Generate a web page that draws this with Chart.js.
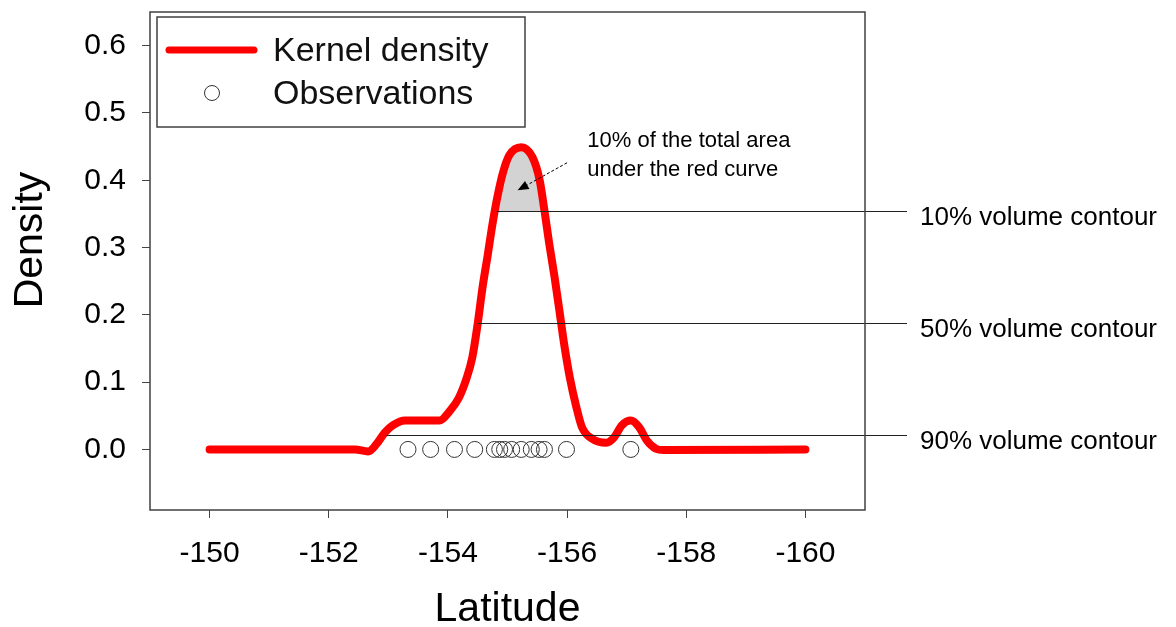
<!DOCTYPE html>
<html>
<head>
<meta charset="utf-8">
<script src="https://cdn.jsdelivr.net/npm/chart.js@4.4.0/dist/chart.umd.min.js"></script>
<style>
html,body{margin:0;padding:0;background:#fff;}
canvas{display:block;}
</style>
</head>
<body>
<canvas id="c" width="1176" height="627"></canvas>
<script>
// ---- data ----
const xTicks = [-150, -152, -154, -156, -158, -160];
const yTicks = [0.0, 0.1, 0.2, 0.3, 0.4, 0.5, 0.6];
const curveLon = [-150, -152.44, -152.66, -152.81, -152.94, -153.08, -153.28, -153.86, -154.03, -154.18, -154.31, -154.41, -154.50, -154.58, -154.67, -154.75, -154.83, -154.92, -155.03, -155.23, -155.42, -155.54, -155.62, -155.70, -155.79, -155.87, -155.95, -156.05, -156.15, -156.25, -156.42, -156.66, -156.79, -156.92, -157.07, -157.21, -157.34, -157.49, -157.62, -160];
const curveDen = [0, 0, -0.003, 0.009, 0.025, 0.036, 0.043, 0.043, 0.057, 0.076, 0.105, 0.137, 0.187, 0.24, 0.29, 0.336, 0.375, 0.41, 0.437, 0.449, 0.434, 0.40, 0.355, 0.306, 0.256, 0.207, 0.157, 0.105, 0.065, 0.033, 0.016, 0.010, 0.018, 0.036, 0.043, 0.033, 0.013, 0.001, -0.001, 0];
const obsLon = [-153.33, -153.71, -154.11, -154.45, -154.78, -154.87, -154.95, -155.07, -155.23, -155.40, -155.53, -155.62, -155.99, -157.07];
const obsDen = obsLon.map(() => 0);
const contourLevels = [0.354, 0.188, 0.021];
const contourStartLon = [-154.82, -154.50, -152.97];
const contourLabels = ['10% volume contour', '50% volume contour', '90% volume contour'];
const annoLines = ['10% of the total area', 'under the red curve'];
const annoLon = -156.34;
const annoDen = [0.459, 0.415];
const arrowFrom = [-156.0, 0.426];
const arrowTo = [-155.17, 0.385];
const seriesLabels = ['Kernel density', 'Observations'];

const FONT = "'Liberation Sans', Arial, sans-serif";

const shade = {
  id: 'shade',
  beforeDatasetsDraw(chart) {
    const ctx = chart.ctx, ys = chart.scales.y, ca = chart.chartArea;
    const meta = chart.getDatasetMeta(0);
    const yLv = ys.getPixelForValue(contourLevels[0]);
    ctx.save();
    ctx.beginPath();
    ctx.rect(ca.left, ca.top, ca.right - ca.left, yLv - ca.top);
    ctx.clip();
    ctx.beginPath();
    meta.dataset.path(ctx);
    ctx.closePath();
    ctx.fillStyle = '#d3d3d3';
    ctx.fill();
    ctx.restore();
  }
};

const overlay = {
  id: 'overlay',
  afterDatasetsDraw(chart) {
    const ctx = chart.ctx, xs = chart.scales.x, ys = chart.scales.y, ca = chart.chartArea;
    ctx.save();
    // contour lines + labels
    ctx.strokeStyle = '#222';
    ctx.lineWidth = 1;
    ctx.fillStyle = '#000';
    ctx.font = '26px ' + FONT;
    ctx.textAlign = 'left';
    ctx.textBaseline = 'middle';
    contourLevels.forEach((lv, i) => {
      const y = Math.round(ys.getPixelForValue(lv)) + 0.5;
      ctx.beginPath();
      ctx.moveTo(xs.getPixelForValue(contourStartLon[i]), y);
      ctx.lineTo(ca.right + 42, y);
      ctx.stroke();
      ctx.fillText(contourLabels[i], ca.right + 55, y + 6);
    });
    // annotation text
    ctx.font = '22px ' + FONT;
    annoLines.forEach((t, i) => {
      ctx.fillText(t, xs.getPixelForValue(annoLon), ys.getPixelForValue(annoDen[i]));
    });
    // arrow
    const x1 = xs.getPixelForValue(arrowFrom[0]), y1 = ys.getPixelForValue(arrowFrom[1]);
    const x2 = xs.getPixelForValue(arrowTo[0]), y2 = ys.getPixelForValue(arrowTo[1]);
    const ang = Math.atan2(y2 - y1, x2 - x1);
    const hl = 11, hw = 4.5;
    const bx = x2 - hl * Math.cos(ang), by = y2 - hl * Math.sin(ang);
    ctx.setLineDash([3, 2]);
    ctx.strokeStyle = '#000';
    ctx.beginPath(); ctx.moveTo(x1, y1); ctx.lineTo(bx, by); ctx.stroke();
    ctx.setLineDash([]);
    ctx.beginPath();
    ctx.moveTo(x2, y2);
    ctx.lineTo(bx + hw * Math.sin(ang), by - hw * Math.cos(ang));
    ctx.lineTo(bx - hw * Math.sin(ang), by + hw * Math.cos(ang));
    ctx.closePath();
    ctx.fillStyle = '#000';
    ctx.fill();
    // frame
    ctx.strokeStyle = '#404040';
    ctx.lineWidth = 1.5;
    ctx.strokeRect(ca.left, ca.top, ca.right - ca.left, ca.bottom - ca.top);
    // legend
    const lx = ca.left + 7, ly = ca.top + 5;
    ctx.fillStyle = '#fff';
    ctx.fillRect(lx, ly, 368, 110);
    ctx.strokeStyle = '#404040';
    ctx.lineWidth = 1.5;
    ctx.strokeRect(lx, ly, 368, 110);
    ctx.strokeStyle = '#ff0000';
    ctx.lineWidth = 7;
    ctx.lineCap = 'round';
    ctx.beginPath(); ctx.moveTo(ca.left + 19, ca.top + 38); ctx.lineTo(ca.left + 104, ca.top + 38); ctx.stroke();
    ctx.lineCap = 'butt';
    ctx.strokeStyle = '#333';
    ctx.lineWidth = 1;
    ctx.beginPath(); ctx.arc(ca.left + 62, ca.top + 81, 7.5, 0, Math.PI * 2); ctx.stroke();
    ctx.fillStyle = '#111';
    ctx.font = '34px ' + FONT;
    ctx.fillText(seriesLabels[0], ca.left + 123, ca.top + 40);
    ctx.fillText(seriesLabels[1], ca.left + 123, ca.top + 83);
    // axis titles
    ctx.font = '41px ' + FONT;
    ctx.textAlign = 'center';
    ctx.fillStyle = '#000';
    ctx.fillText('Latitude', (ca.left + ca.right) / 2, 610);
    ctx.save();
    ctx.translate(31, 240);
    ctx.rotate(-Math.PI / 2);
    ctx.fillText('Density', 0, 0);
    ctx.restore();
    ctx.restore();
  }
};

new Chart(document.getElementById('c'), {
  type: 'line',
  data: {
    datasets: [
      {
        label: seriesLabels[0],
        data: curveLon.map((x, i) => ({x: x, y: curveDen[i]})),
        borderColor: '#ff0000',
        borderWidth: 8,
        borderCapStyle: 'round',
        borderJoinStyle: 'round',
        pointRadius: 0,
        cubicInterpolationMode: 'monotone',
        fill: false,
        order: 2
      },
      {
        label: seriesLabels[1],
        data: obsLon.map((x, i) => ({x: x, y: obsDen[i]})),
        showLine: false,
        pointRadius: 8,
        pointBorderWidth: 1,
        pointBorderColor: '#333',
        pointBackgroundColor: 'rgba(0,0,0,0)',
        order: 1
      }
    ]
  },
  options: {
    responsive: false,
    animation: false,
    layout: {padding: {top: 12, right: 311, left: 0, bottom: 0}},
    plugins: {legend: {display: false}, tooltip: {enabled: false}},
    scales: {
      x: {
        type: 'linear', min: -161, max: -149, reverse: true,
        afterBuildTicks: s => { s.ticks = xTicks.map(v => ({value: v})); },
        afterFit: s => { s.height = 117; s.paddingLeft = 0; s.paddingRight = 0; },
        grid: {drawOnChartArea: false, drawTicks: true, tickLength: 8, color: '#444', lineWidth: 1},
        border: {display: false},
        ticks: {font: {size: 30, family: FONT}, color: '#000', padding: 18, maxRotation: 0, autoSkip: false, callback: v => String(v)}
      },
      y: {
        type: 'linear', min: -0.09, max: 0.65,
        afterBuildTicks: s => { s.ticks = yTicks.map(v => ({value: v})); },
        afterFit: s => { s.width = 150; s.paddingTop = 0; s.paddingBottom = 0; },
        grid: {drawOnChartArea: false, drawTicks: true, tickLength: 8, color: '#444', lineWidth: 1},
        border: {display: false},
        ticks: {font: {size: 30, family: FONT}, color: '#000', padding: 16, callback: v => Number(v).toFixed(1)}
      }
    }
  },
  plugins: [shade, overlay]
});
</script>
</body>
</html>
